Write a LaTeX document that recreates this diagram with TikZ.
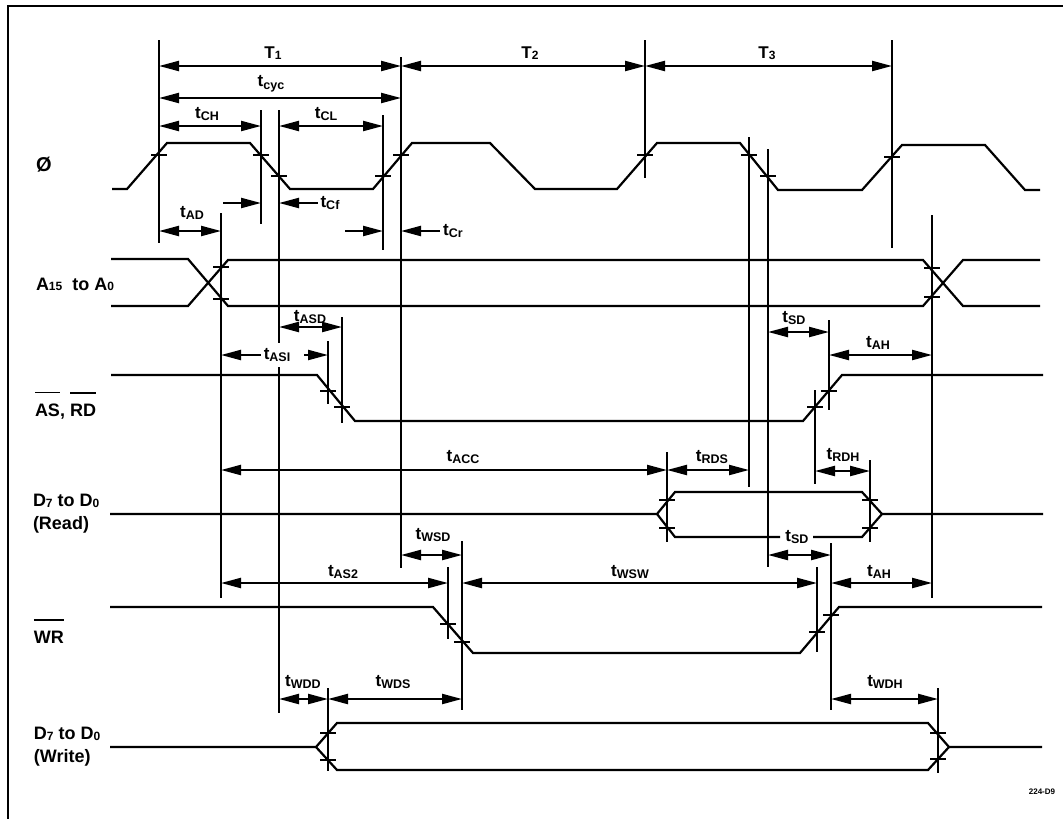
\documentclass[tikz,border=0pt]{standalone}
\usepackage{fontspec}
\setmainfont{Liberation Sans}
\usetikzlibrary{arrows.meta}

% Subscripted timing name and barred signal name
\newcommand{\tsub}[2]{#1{\fontsize{12.5}{12.5}\selectfont\raisebox{-2.5pt}{#2}}}
\newcommand{\dsub}[2]{#1{\fontsize{12}{12}\selectfont\raisebox{-0.5pt}{#2}}}
\newcommand{\barred}[1]{\leavevmode\vbox{\hrule height 1.2pt \kern 10pt \hbox{#1}}}

\tikzset{
    signal/.style={line width=2.2pt, line join=miter},
    guide/.style={line width=2.2pt},
    tickmark/.style={line width=1.8pt},
    dimline/.style={line width=2.2pt, {Triangle[length=20pt,width=10pt]}-{Triangle[length=20pt,width=10pt]}},
    dimhalf/.style={line width=2.2pt, -{Triangle[length=20pt,width=10pt]}},
    tlabel/.style={inner sep=0pt, outer sep=0pt, font=\fontsize{17}{17}\selectfont\bfseries},
    namelabel/.style={inner sep=0pt, outer sep=0pt, anchor=base west, align=left, font=\fontsize{18}{23}\selectfont\bfseries},
}

\begin{document}
\begin{tikzpicture}[x=1pt, y=-1pt]

    \useasboundingbox (0,0) rectangle (1063,819);

    % Page frame, open on the right and at the bottom
    \draw[line width=2.2pt] (8,819) -- (8,6) -- (1063,6);

    % Signal names
    \node[namelabel] (nClk) at (36,171) {\fontsize{20}{20}\selectfont Ø};
    \node[namelabel] (nAddr) at (36,290) {\dsub{A}{15} \ to \dsub{A}{0}};
    \node[namelabel] (nAs) at (35,416) {\barred{AS}, \barred{RD}};
    \node[namelabel, anchor=west] (nRead) at (33,514) {\dsub{D}{7} to \dsub{D}{0}\\(Read)};
    \node[namelabel] (nWr) at (34,643) {\barred{WR}};
    \node[namelabel, anchor=west] (nWrite) at (34,747) {\dsub{D}{7} to \dsub{D}{0}\\(Write)};

    % Clock
    \draw[signal] (112,189) -- (127,189) -- (167,143) -- (250,143) -- (290,189) -- (373,189)
        -- (412,143) -- (490,143) -- (535,189) -- (617,189) -- (657,143) -- (740,143)
        -- (778,190) -- (862,190) -- (902,145) -- (985,145) -- (1025,190) -- (1040,190);

    % Address bus
    \draw[signal] (111,259) -- (188,259) -- (228,306) -- (923,306) -- (963,260) -- (1040,260);
    \draw[signal] (111,306) -- (188,306) -- (228,260) -- (923,260) -- (963,306) -- (1040,306);

    % AS, RD and WR
    \draw[signal] (111,375) -- (317,375) -- (355,421) -- (803,421) -- (842,375) -- (1043,375);
    \draw[signal] (110,607) -- (433,607) -- (473,653) -- (800,653) -- (839,607) -- (1042,607);

    % Read data
    \draw[signal] (110,514) -- (657,514) -- (675,492) -- (862,492) -- (882,514) -- (1043,514);
    \draw[signal] (780,537) -- (675,537) -- (657,514);
    \draw[signal] (813,537) -- (862,537) -- (882,514);

    % Write data
    \draw[signal] (110,747) -- (316,747) -- (337,723) -- (928,723) -- (949,747) -- (1042,747);
    \draw[signal] (316,747) -- (337,770) -- (928,770) -- (949,747);

    % Vertical guides
    \foreach \name/\x/\ya/\yb in {
        gTa/159/40/243, gTb/401/57/568, gTc/645/40/178, gTd/892/40/248,
        gCH/261/110/224, gCL/383/115/250, gCf/279/110/343, gCg/279/367/713,
        gAD/221/213/598, gASI/328/341/404, gASD/342/317/423,
        gFa/749/137/487, gFb/768/149/567, gAH/932/215/598,
        gRa/815/390/484, gRb/829/320/410, gDa/667/452/542, gDb/870/460/542,
        gWb/462/541/710, gWa/448/567/639, gWc/817/567/652, gWd/831/543/710,
        gWDD/328/688/771, gWDH/938/688/773} {
        \coordinate (\name) at (\x,\ya);
        \draw[guide] (\x,\ya) -- (\x,\yb);
    }

    % Small crossings where a guide meets an edge
    \foreach \g/\y in {
        gTa/155, gCH/155, gCf/176, gCL/176, gTb/155, gTc/155, gFa/155, gFb/176, gTd/157,
        gAD/267, gAD/299, gAH/268, gAH/297,
        gASI/391, gASD/407, gRa/407, gRb/391,
        gDa/500, gDa/528, gDb/500, gDb/528,
        gWa/624, gWb/642, gWc/632, gWd/615,
        gWDD/733, gWDD/760, gWDH/733, gWDH/759} {
        \draw[tickmark] (\g |- 0,\y) +(-8,0) -- +(8,0);
    }

    % Dimension arrows between guides
    \foreach \ga/\gb/\y in {
        gTa/gTb/66, gTb/gTc/66, gTc/gTd/66, gTa/gTb/98,
        gTa/gCH/126, gCf/gCL/126, gTa/gAD/231,
        gCf/gASD/327, gFb/gRb/332, gRb/gAH/355,
        gAD/gDa/470, gDa/gFa/470, gRa/gDb/471,
        gFb/gWd/555, gTb/gWb/555,
        gAD/gWa/583, gWb/gWc/583, gWd/gAH/583,
        gCg/gWDD/699, gWDD/gWb/699, gWd/gWDH/699} {
        \draw[dimline] (\ga |- 0,\y) -- (\gb |- 0,\y);
    }

    % Timing names
    \node[tlabel] (lTa) at (273,53) {\dsub{T}{1}};
    \node[tlabel] (lTb) at (530,53) {\dsub{T}{2}};
    \node[tlabel] (lTc) at (767,53) {\dsub{T}{3}};
    \node[tlabel] (lCyc) at (271,84) {\tsub{t}{cyc}};
    \node[tlabel] (lCH) at (207,114) {\tsub{t}{CH}};
    \node[tlabel] (lCL) at (326,114) {\tsub{t}{CL}};
    \node[tlabel] (lAD) at (192,213) {\tsub{t}{AD}};
    \node[tlabel] (lCf) at (330,203) {\tsub{t}{Cf}};
    \node[tlabel] (lCr) at (453,231) {\tsub{t}{Cr}};
    \node[tlabel] (lASD) at (310,317) {\tsub{t}{ASD}};
    \node[tlabel] (lASI) at (277,355) {\tsub{t}{ASI}};
    \node[tlabel] (lSDa) at (794,318) {\tsub{t}{SD}};
    \node[tlabel] (lAHa) at (878,343) {\tsub{t}{AH}};
    \node[tlabel] (lACC) at (463,457) {\tsub{t}{ACC}};
    \node[tlabel] (lRDS) at (712,457) {\tsub{t}{RDS}};
    \node[tlabel] (lRDH) at (843,455) {\tsub{t}{RDH}};
    \node[tlabel] (lSDb) at (797,537) {\tsub{t}{SD}};
    \node[tlabel] (lWSD) at (433,535) {\tsub{t}{WSD}};
    \node[tlabel] (lAS2) at (343,572) {\tsub{t}{AS2}};
    \node[tlabel] (lWSW) at (630,572) {\tsub{t}{WSW}};
    \node[tlabel] (lAHb) at (879,572) {\tsub{t}{AH}};
    \node[tlabel] (lWDD) at (303,682) {\tsub{t}{WDD}};
    \node[tlabel] (lWDS) at (393,682) {\tsub{t}{WDS}};
    \node[tlabel] (lWDH) at (885,682) {\tsub{t}{WDH}};

    % Arrows with a free end or starting at a name
    \coordinate (cCH) at (223,203);
    \coordinate (cCL) at (345,231);
    \draw[dimhalf] (cCH) -- (gCH |- cCH);
    \draw[dimhalf] (cCL) -- (gCL |- cCL);
    \draw[dimhalf] ([xshift=-3pt]lCf.west) -- (gCf |- lCf.west);
    \draw[dimhalf] ([xshift=-3pt]lCr.west) -- (gTb |- lCr.west);
    \draw[dimhalf] ([xshift=-3pt]lASI.west) -- (gAD |- lASI.west);
    \draw[dimhalf] ([xshift=14pt]lASI.east) -- (gASI |- lASI.east);

    % Part number
    \node[inner sep=0pt, font=\fontsize{8}{8}\selectfont\bfseries] (lPart) at (1042,792) {224-D9};

\end{tikzpicture}
\end{document}
